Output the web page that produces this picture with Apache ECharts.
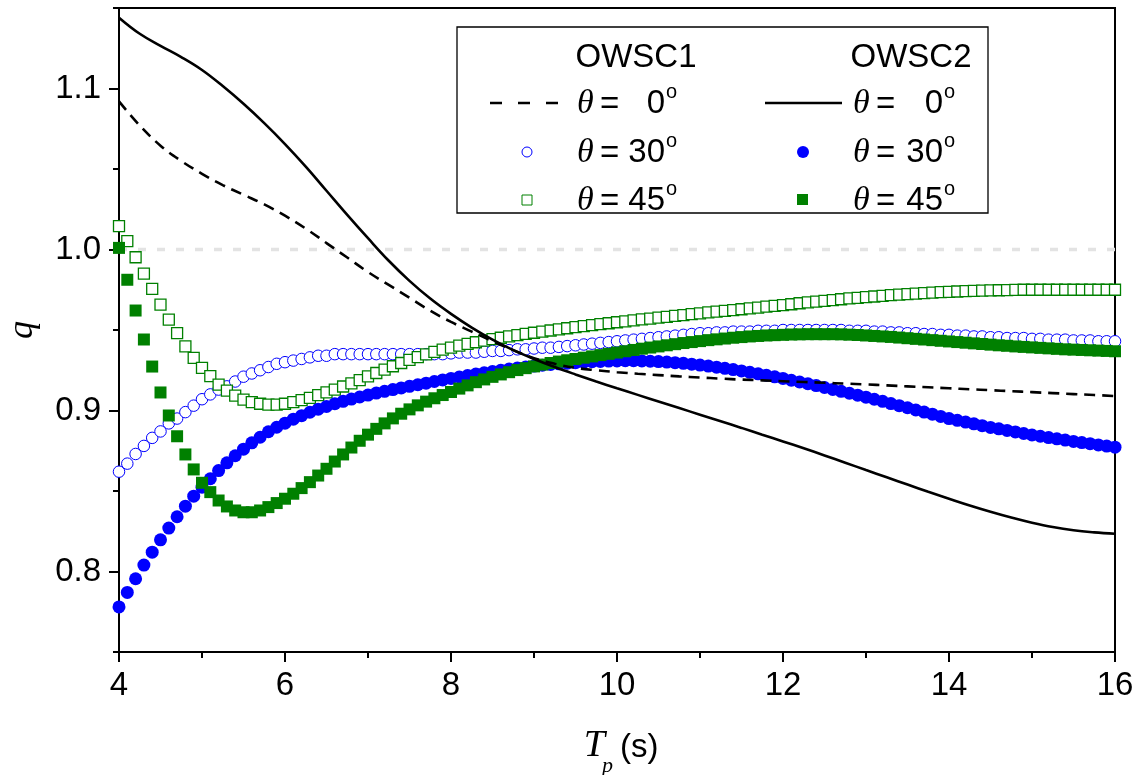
<!DOCTYPE html>
<html><head><meta charset="utf-8">
<script src="https://cdn.jsdelivr.net/npm/echarts@6/dist/echarts.min.js"></script>
<style>html,body{margin:0;padding:0;background:#fff}#c{width:1137px;height:775px}</style>
</head><body><div id="c"></div><script>
// ---- data ----
const tp = [
 4.0,4.1,4.2,4.3,4.4,4.5,4.6,4.7,4.8,4.9,
 5.0,5.1,5.2,5.3,5.4,5.5,5.6,5.7,5.8,5.9,
 6.0,6.1,6.2,6.3,6.4,6.5,6.6,6.7,6.8,6.9,
 7.0,7.1,7.2,7.3,7.4,7.5,7.6,7.7,7.8,7.9,
 8.0,8.1,8.2,8.3,8.4,8.5,8.6,8.7,8.8,8.9,
 9.0,9.1,9.2,9.3,9.4,9.5,9.6,9.7,9.8,9.9,
 10.0,10.1,10.2,10.3,10.4,10.5,10.6,10.7,10.8,10.9,
 11.0,11.1,11.2,11.3,11.4,11.5,11.6,11.7,11.8,11.9,
 12.0,12.1,12.2,12.3,12.4,12.5,12.6,12.7,12.8,12.9,
 13.0,13.1,13.2,13.3,13.4,13.5,13.6,13.7,13.8,13.9,
 14.0,14.1,14.2,14.3,14.4,14.5,14.6,14.7,14.8,14.9,
 15.0,15.1,15.2,15.3,15.4,15.5,15.6,15.7,15.8,15.9,
 16.0];

const owsc1_30 = [
 .862,.867,.873,.878,.883,.887,.892,.895,.899,.903,
 .907,.910,.913,.915,.918,.921,.923,.925,.927,.929,
 .930,.931,.932,.933,.934,.934,.935,.935,.935,.935,
 .935,.935,.935,.935,.935,.935,.935,.935,.935,.935,
 .9355,.936,.936,.936,.9365,.937,.937,.9375,.938,.938,
 .9385,.939,.939,.9395,.940,.9405,.941,.9415,.942,.9425,
 .943,.9435,.944,.9445,.945,.9455,.946,.9465,.947,.9475,
 .948,.948,.9485,.9485,.949,.949,.949,.9495,.9495,.9495,
 .950,.950,.950,.950,.950,.950,.950,.950,.9495,.9495,
 .9495,.949,.949,.9485,.9485,.948,.948,.9475,.9475,.947,
 .947,.9465,.9465,.946,.946,.9455,.9455,.945,.945,.945,
 .9445,.9445,.944,.944,.944,.9435,.9435,.9435,.943,.943,
 .943];

const owsc2_30 = [
 .778,.787,.7955,.804,.812,.8197,.827,.834,.8406,.8468,
 .8524,.8576,.8627,.8675,.8719,.876,.8799,.8834,.8868,.8896,
 .8921,.8946,.8968,.8989,.9008,.9025,.9042,.9057,.9071,.9084,
 .9096,.9108,.9119,.913,.914,.915,.916,.917,.918,.919,
 .9199,.9208,.9217,.9226,.9234,.9242,.925,.9257,.9264,.927,
 .9276,.9281,.9286,.929,.9294,.9297,.93,.9303,.9305,.9307,
 .9308,.9309,.9309,.9308,.9306,.9304,.9301,.9297,.9293,.9288,
 .9282,.9276,.9269,.9262,.9254,.9246,.9237,.9228,.9219,.9209,
 .9199,.9188,.9177,.9166,.9155,.9143,.9131,.9119,.9107,.9095,
 .9083,.907,.9057,.9043,.903,.9017,.9003,.899,.8977,.8963,
 .895,.8939,.8928,.8917,.8906,.8895,.8886,.8876,.8867,.8857,
 .8848,.884,.8832,.8824,.8816,.8808,.8801,.8794,.8786,.8779,
 .8772];

const owsc1_45 = [
 1.0145,1.0052,.9952,.985,.9756,.9658,.9565,.948,.9398,.9327,
 .9265,.9213,.9161,.9124,.9093,.9068,.9052,.9042,.9037,.9037,
 .9042,.9052,.9064,.9079,.9095,.9112,.913,.9149,.9169,.9189,
 .9212,.9233,.9254,.9275,.9295,.9314,.9332,.9349,.9364,.9378,
 .9391,.9403,.9414,.9424,.9434,.9443,.9452,.946,.9468,.9476,
 .9483,.949,.9497,.9504,.9511,.9518,.9524,.953,.9536,.9542,
 .9548,.9554,.956,.9566,.9571,.9577,.9582,.9588,.9593,.9598,
 .9603,.9609,.9614,.9619,.9624,.9629,.9634,.9639,.9645,.965,
 .9655,.966,.9666,.9671,.9676,.9681,.9686,.9691,.9696,.97,
 .9704,.9708,.9712,.9716,.972,.9723,.9726,.9729,.9732,.9735,
 .9737,.9739,.9741,.9743,.9745,.9746,.9747,.9748,.9749,.975,
 .975,.975,.975,.975,.975,.975,.975,.975,.975,.975,
 .975];

const owsc2_45 = [
 1.001,.9812,.9621,.9441,.9273,.9112,.8969,.884,.8727,.8634,
 .8551,.8493,.8441,.8404,.8379,.8368,.8368,.8379,.84,.8425,
 .8452,.8483,.8518,.8555,.8596,.8638,.8683,.8727,.877,.8812,
 .885,.8886,.892,.8951,.898,.9007,.9032,.9055,.9076,.9096,
 .9115,.9136,.9156,.9176,.9193,.9209,.9224,.9238,.9251,.9263,
 .9274,.9285,.9295,.9304,.9312,.932,.9328,.9336,.9344,.9352,
 .936,.9368,.9376,.9384,.9391,.9398,.9405,.9412,.9419,.9425,
 .9431,.9437,.9442,.9447,.9452,.9456,.946,.9463,.9466,.9468,
 .947,.9472,.9473,.9474,.9474,.9474,.9474,.9473,.9471,.9469,
 .9466,.9463,.946,.9457,.9453,.9449,.9445,.9441,.9437,.9433,
 .9429,.9425,.9421,.9417,.9413,.9409,.9405,.9402,.9398,.9395,
 .9392,.9389,.9386,.9383,.938,.9378,.9376,.9374,.9372,.937,
 .9368];

// continuous curves (theta = 0)
const tpLine = [
 4.0,4.25,4.5,4.75,5.0,5.25,5.5,5.75,6.0,6.25,6.5,6.75,
 7.0,7.25,7.5,7.75,8.0,8.25,8.5,8.75,9.0,9.25,9.5,9.75,
 10.0,10.25,10.5,10.75,11.0,11.25,11.5,11.75,12.0,12.25,12.5,12.75,
 13.0,13.25,13.5,13.75,14.0,14.25,14.5,14.75,15.0,15.25,15.5,15.75,
 16.0];
const owsc1_0 = [
 1.092,1.077,1.0645,1.055,1.047,1.040,1.034,1.028,1.021,1.013,1.004,0.995,
 0.986,0.978,0.970,0.962,0.955,0.949,0.943,0.9375,0.9325,0.929,0.9265,0.925,
 0.9238,0.9228,0.922,0.9212,0.9205,0.9198,0.9192,0.9187,0.9182,0.9177,0.9172,0.9167,
 0.9162,0.9156,0.915,0.9144,0.9138,0.9132,0.9126,0.912,0.9114,0.9108,0.9102,0.9096,
 0.909];
const owsc2_0 = [
 1.144,1.134,1.1265,1.1195,1.1115,1.1015,1.0905,1.0785,1.0655,1.0515,1.0365,1.0215,
 1.007,0.993,0.9805,0.9695,0.960,0.9515,0.944,0.9375,0.932,0.927,0.9224,0.918,
 0.9138,0.9097,0.9056,0.9015,0.8974,0.8933,0.8892,0.885,0.8808,0.8765,0.8721,0.8676,
 0.863,0.8585,0.854,0.8495,0.8452,0.841,0.8371,0.8335,0.8303,0.8276,0.8256,0.8243,
 0.8234];

const refLevel = 1.0;
const yTickLabels = [0.8, 0.9, 1.0, 1.1];

// ---- chart ----
const pair = (xs, ys) => xs.map((x, i) => [x, ys[i]]);
const SANS = 'Liberation Sans, Arial, sans-serif';
const SERIF = 'Liberation Serif, Times New Roman, serif';
const FS = 33;

const chart = echarts.init(document.getElementById('c'), null, {renderer: 'canvas'});

// legend drawn as graphics
const G = [];
G.push({type: 'rect', shape: {x: 457, y: 27, width: 531, height: 186},
  style: {fill: '#fff', stroke: '#000', lineWidth: 1.3}, z: 100});
G.push({type: 'text', x: 636, y: 58, style: {text: 'OWSC1', font: FS + 'px ' + SANS, fill: '#000', align: 'center', verticalAlign: 'middle'}, z: 101});
G.push({type: 'text', x: 911, y: 58, style: {text: 'OWSC2', font: FS + 'px ' + SANS, fill: '#000', align: 'center', verticalAlign: 'middle'}, z: 101});
function labelRow(thX, eqX, numRight, y, num) {
  G.push({type: 'text', x: thX, y: y + 1, style: {text: 'θ', font: 'italic 34px ' + SERIF, fill: '#000', align: 'left', verticalAlign: 'middle'}, z: 101});
  G.push({type: 'text', x: eqX, y: y + 2, style: {text: '=', font: FS + 'px ' + SANS, fill: '#000', align: 'left', verticalAlign: 'middle'}, z: 101});
  G.push({type: 'text', x: numRight, y: y + 1, style: {text: num, font: FS + 'px ' + SANS, fill: '#000', align: 'right', verticalAlign: 'middle'}, z: 101});
  G.push({type: 'text', x: numRight + 1, y: y - 11, style: {text: 'o', font: '20px ' + SANS, fill: '#000', align: 'left', verticalAlign: 'middle'}, z: 101});
}
const rows = [103, 152, 200];
const nums = ['0', '30', '45'];
rows.forEach((y, i) => { labelRow(577, 600, 665, y, nums[i]); labelRow(853, 876, 943, y, nums[i]); });
G.push({type: 'line', shape: {x1: 490, y1: 103, x2: 558, y2: 103}, style: {stroke: '#000', lineWidth: 2.6, lineDash: [12, 16]}, z: 101});
G.push({type: 'line', shape: {x1: 765, y1: 103, x2: 842, y2: 103}, style: {stroke: '#000', lineWidth: 2.6}, z: 101});
G.push({type: 'circle', shape: {cx: 527, cy: 152, r: 5}, style: {fill: '#fff', stroke: '#0000ff', lineWidth: 1}, z: 101});
G.push({type: 'circle', shape: {cx: 803, cy: 152, r: 6}, style: {fill: '#0000ff'}, z: 101});
G.push({type: 'rect', shape: {x: 522, y: 195, width: 10, height: 10}, style: {fill: '#fff', stroke: '#008000', lineWidth: 1}, z: 101});
G.push({type: 'rect', shape: {x: 797, y: 194, width: 11, height: 11}, style: {fill: '#008000'}, z: 101});
// x-axis title  T_p (s)
G.push({type: 'text', x: 605, y: 746, style: {text: 'T', font: 'italic 38px ' + SERIF, fill: '#000', align: 'right', verticalAlign: 'middle'}, z: 101});
G.push({type: 'text', x: 602, y: 766, style: {text: 'p', font: 'italic 22px ' + SERIF, fill: '#000', align: 'left', verticalAlign: 'middle'}, z: 101});
G.push({type: 'text', x: 620, y: 748, style: {text: '(s)', font: FS + 'px ' + SANS, fill: '#000', align: 'left', verticalAlign: 'middle'}, z: 101});

const option = {
  animation: false,
  backgroundColor: '#fff',
  grid: {left: 119, right: 22, top: 8, bottom: 123, show: true, borderColor: '#000', borderWidth: 2,
    containLabel: false, outerBoundsMode: 'none'},
  xAxis: {
    type: 'value', min: 4, max: 16, interval: 2,
    axisLine: {show: true, lineStyle: {color: '#000', width: 2}},
    axisTick: {show: true, inside: false, length: 10, lineStyle: {color: '#000', width: 2}},
    minorTick: {show: true, splitNumber: 2, length: 6, lineStyle: {color: '#000', width: 2}},
    splitLine: {show: false}, minorSplitLine: {show: false},
    axisLabel: {color: '#000', fontSize: FS, fontFamily: SANS, margin: 17}
  },
  yAxis: [{
    type: 'value', min: 0.75, max: 1.15, interval: 0.05,
    axisLine: {show: true, lineStyle: {color: '#000', width: 2}},
    axisTick: {show: true, length: 10, customValues: yTickLabels, lineStyle: {color: '#000', width: 2}},
    splitLine: {show: false},
    axisLabel: {color: '#000', fontSize: FS, fontFamily: SANS, margin: 18, customValues: yTickLabels,
      formatter: v => Number(v).toFixed(1)},
    name: 'q', nameLocation: 'middle', nameGap: 78, nameRotate: 90,
    nameTextStyle: {color: '#000', fontFamily: SERIF, fontStyle: 'italic', fontSize: 36}
  }, {
    type: 'value', min: 0.75, max: 1.15, interval: 0.05, position: 'left',
    axisLine: {show: false}, splitLine: {show: false}, axisLabel: {show: false},
    axisTick: {show: true, length: 6, lineStyle: {color: '#000', width: 2}}
  }],
  series: [
    {type: 'line', name: 'ref', data: [[4, refLevel], [16, refLevel]], symbol: 'none', silent: true, z: 1,
      lineStyle: {color: '#e3e3e3', width: 3.5, type: [8, 11]}},
    {type: 'scatter', name: 'OWSC1 30', data: pair(tp, owsc1_30), symbol: 'circle', symbolSize: 11.5, z: 2,
      itemStyle: {color: '#fff', borderColor: '#0000ff', borderWidth: 1, opacity: 1}},
    {type: 'scatter', name: 'OWSC1 45', data: pair(tp, owsc1_45), symbol: 'rect', symbolSize: 11, z: 3,
      itemStyle: {color: '#fff', borderColor: '#008000', borderWidth: 1.3, opacity: 1}},
    {type: 'scatter', name: 'OWSC2 30', data: pair(tp, owsc2_30), symbol: 'circle', symbolSize: 13, z: 4,
      itemStyle: {color: '#0000ff', opacity: 1}},
    {type: 'scatter', name: 'OWSC2 45', data: pair(tp, owsc2_45), symbol: 'rect', symbolSize: 12, z: 5,
      itemStyle: {color: '#008000', opacity: 1}},
    {type: 'line', name: 'OWSC1 0', data: pair(tpLine, owsc1_0), symbol: 'none', smooth: 0.4, z: 6,
      lineStyle: {color: '#000', width: 2.6, type: [11, 7]}},
    {type: 'line', name: 'OWSC2 0', data: pair(tpLine, owsc2_0), symbol: 'none', smooth: 0.4, z: 7,
      lineStyle: {color: '#000', width: 2.6}}
  ],
  graphic: G
};
chart.setOption(option);
</script></body></html>
